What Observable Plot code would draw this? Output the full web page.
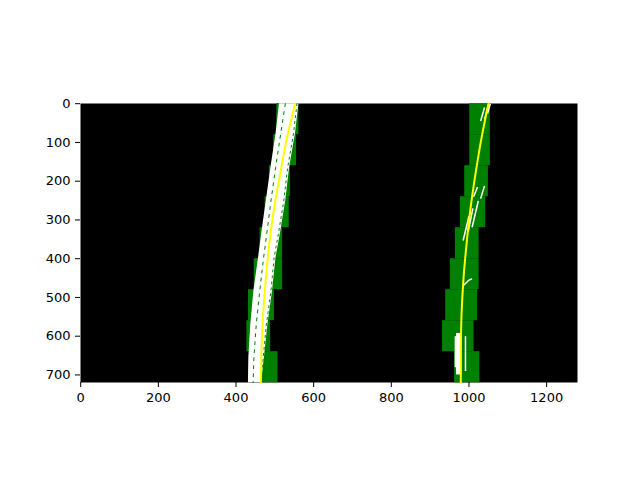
<!DOCTYPE html>
<html>
<head>
<meta charset="utf-8">
<script src="https://cdn.jsdelivr.net/npm/d3@7"></script>
<script src="https://cdn.jsdelivr.net/npm/@observablehq/plot@0.6"></script>
<style>
  body { margin: 0; background: white; }
  #chart svg { font-family: "DejaVu Sans", sans-serif; font-size: 13px !important; }
</style>
</head>
<body>
<div id="chart"></div>
<script>
// tick labels
const xTicks = [0, 200, 400, 600, 800, 1000, 1200];
const yTicks = [0, 100, 200, 300, 400, 500, 600, 700];

// sliding windows, one per 80px row (top edge of the row), left and right lane
const winTop = [0, 80, 160, 240, 320, 400, 480, 560, 640];
const winHeight = 80;
const leftWinLow = [505, 497, 486, 475, 462, 447, 432, 428, 445];
const leftWinHigh = [562, 556, 540, 537, 520, 520, 499, 489, 508];
const rightWinLow = [1002, 1002, 989, 978, 965, 952, 940, 932, 963];
const rightWinHigh = [1055, 1055, 1050, 1043, 1026, 1026, 1022, 1013, 1028];

// white lane pixels, left lane as a band
const leftBandY = [0, 78, 165, 251, 337, 398, 484, 571, 657, 720];
const leftBandX1 = [512, 503, 490, 478, 466, 458, 446, 438, 433, 432];
const leftBandX2 = [562, 553, 538, 528, 514, 503, 494, 482, 473, 466];
// green gaps showing through the left band
const leftGapX = [527, 515, 502, 490, 479, 471, 461, 452, 446, 444];
const leftEdgeGapX = [557, 548, 533, 523, 509, 498, 490, 478, 470, 463];

// white lane pixels, right lane as short dashes
const rightDashX1 = [1030, 1040, 1048, 1012, 1030, 985, 998, 1008, 985, 1000, 965, 991];
const rightDashY1 = [45, 40, 25, 240, 245, 353, 330, 319, 470, 455, 600, 600];
const rightDashX2 = [1040, 1050, 1055, 1022, 1040, 1000, 1010, 1024, 1000, 1008, 965, 991];
const rightDashY2 = [10, 5, 0, 215, 212, 290, 270, 251, 455, 452, 680, 690];
// solid white strip at the bottom of the right lane
const rightStripX = [968, 982];
const rightStripY = [593, 700];

// fitted polynomial
const fitY = [0, 90, 180, 270, 360, 450, 540, 630, 720];
const leftFitX = [552, 531, 514, 498, 486, 477, 470, 466, 464];
const rightFitX = [1050, 1032, 1017, 1004, 994, 986, 981, 979, 979];

const windows = [];
winTop.forEach((t, i) => {
  windows.push({x1: leftWinLow[i], x2: leftWinHigh[i], y1: t, y2: t + winHeight});
  windows.push({x1: rightWinLow[i], x2: rightWinHigh[i], y1: t, y2: t + winHeight});
});
const band = leftBandY.map((y, i) => ({
  y, x1: leftBandX1[i], x2: leftBandX2[i], gap: leftGapX[i], edge: leftEdgeGapX[i]
}));
const dashes = rightDashX1.map((x, i) => ({
  x1: x, y1: rightDashY1[i], x2: rightDashX2[i], y2: rightDashY2[i]
}));
const strip = [{x1: rightStripX[0], x2: rightStripX[1], y1: rightStripY[0], y2: rightStripY[1]}];
const leftFit = fitY.map((y, i) => ({y, x: leftFitX[i]}));
const rightFit = fitY.map((y, i) => ({y, x: rightFitX[i]}));

const chart = Plot.plot({
  width: 640,
  height: 480,
  marginLeft: 80,
  marginRight: 63,
  marginTop: 103,
  marginBottom: 98,
  style: {background: "white", color: "black"},
  x: {domain: [-0.5, 1279.5]},
  y: {domain: [719.5, -0.5]},
  marks: [
    Plot.frame({fill: "black"}),
    Plot.rect(windows, {x1: "x1", x2: "x2", y1: "y1", y2: "y2", fill: "#008000"}),
    Plot.areaX(band, {y: "y", x1: "x1", x2: "x2", fill: "white"}),
    Plot.line(band, {x: "gap", y: "y", stroke: "#008000", strokeWidth: 1, strokeDasharray: "3,5"}),
    Plot.line(band, {x: "edge", y: "y", stroke: "#008000", strokeWidth: 1, strokeDasharray: "2,4"}),
    Plot.link(dashes, {x1: "x1", y1: "y1", x2: "x2", y2: "y2", stroke: "white", strokeWidth: 1.5}),
    Plot.rect(strip, {x1: "x1", x2: "x2", y1: "y1", y2: "y2", fill: "white"}),
    Plot.line(leftFit, {x: "x", y: "y", stroke: "yellow", strokeWidth: 2, curve: "catmull-rom"}),
    Plot.line(rightFit, {x: "x", y: "y", stroke: "yellow", strokeWidth: 2, curve: "catmull-rom"}),
    Plot.axisX({ticks: xTicks, tickFormat: d3.format("d"), tickSize: 5, tickPadding: 5, label: null}),
    Plot.axisY({ticks: yTicks, tickFormat: d3.format("d"), tickSize: 5, tickPadding: 5, label: null})
  ]
});
document.getElementById("chart").append(chart);
</script>
</body>
</html>
